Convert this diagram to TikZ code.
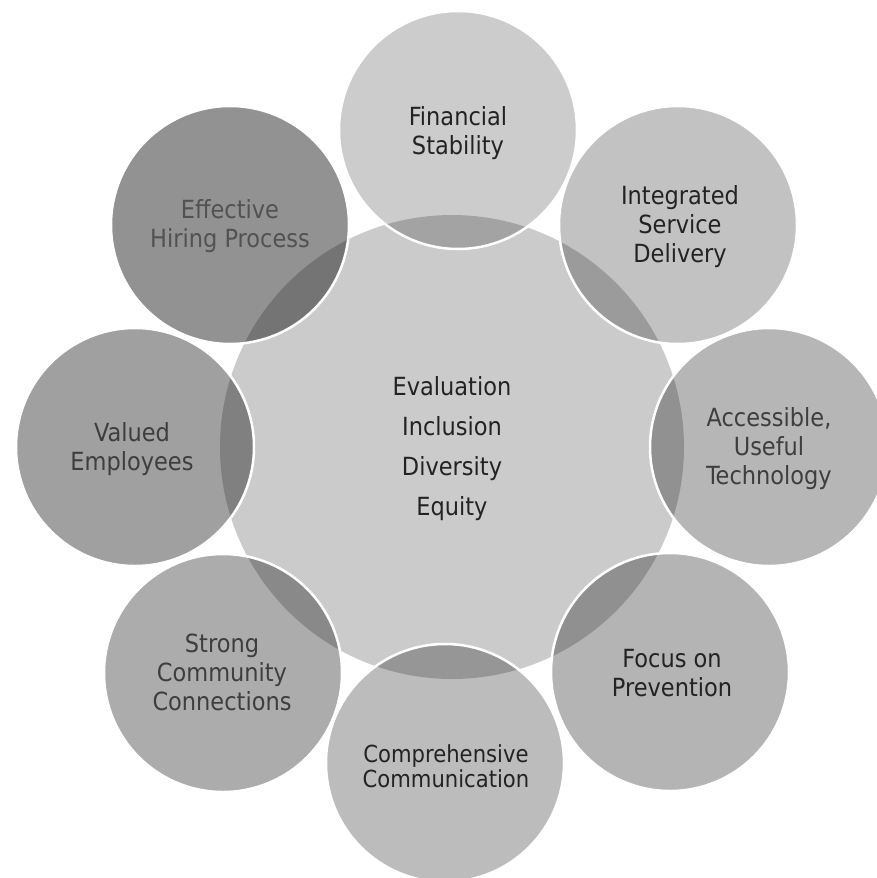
\documentclass[tikz,border=0pt]{standalone}
\usepackage{fontspec}
\setmainfont{DejaVu Sans Condensed}

% fills of the discs
\definecolor{hubfill}{RGB}{203,203,203}
\definecolor{finfill}{RGB}{204,204,204}
\definecolor{intfill}{RGB}{194,194,194}
\definecolor{accfill}{RGB}{182,182,182}
\definecolor{focfill}{RGB}{180,180,180}
\definecolor{comfill}{RGB}{188,188,188}
\definecolor{strfill}{RGB}{172,172,172}
\definecolor{valfill}{RGB}{160,160,160}
\definecolor{efffill}{RGB}{146,146,146}
% text inks
\definecolor{inkdark}{RGB}{35,35,35}
\definecolor{inkmid}{RGB}{62,62,62}
\definecolor{inksoft}{RGB}{82,82,82}

% one outer disc: name, centre, fill; its overlap with the hub is shaded darker
\newcommand\drawpetal[3]{%
  \node[disc, fill=#3] (#1) at (#2) {};
  \begin{scope}
    \clip (#1.center) circle[radius=119pt];
    \fill[black, opacity=0.2] (hub.center) circle[radius=232pt];
  \end{scope}
  \draw[white, line width=2.5pt] (#1.center) circle[radius=119pt];
}

\begin{document}
\begin{tikzpicture}[x=1pt, y=-1pt,
  disc/.style={circle, inner sep=0pt, minimum size=238pt},
  hubdisc/.style={circle, inner sep=0pt, minimum size=464pt},
  petaltext/.style={align=center, inner sep=0pt, text=inkdark,
    font=\fontsize{25}{29}\selectfont},
  hubtext/.style={align=center, inner sep=0pt, text=inkdark,
    font=\fontsize{25}{40}\selectfont},
]
\useasboundingbox[fill=white] (0,0) rectangle (876,878);

% central disc
\node[hubdisc, fill=hubfill] (hub) at (452,447) {};

% ring of eight discs
\drawpetal{fin}{458,130}{finfill}
\drawpetal{int}{678,225}{intfill}
\drawpetal{acc}{769,447}{accfill}
\drawpetal{foc}{670,672}{focfill}
\drawpetal{com}{445,763}{comfill}
\drawpetal{str}{223,673}{strfill}
\drawpetal{val}{135,447}{valfill}
\drawpetal{eff}{230,225}{efffill}

% labels
\node[hubtext] (hublabel) at (452,449) {Evaluation\\Inclusion\\Diversity\\Equity};
\node[petaltext] (finlabel) at (458,133) {Financial\\Stability};
\node[petaltext] (intlabel) at (680,227) {Integrated\\Service\\Delivery};
\node[petaltext, text=inkmid] (acclabel) at (769,449) {Accessible,\\Useful\\Technology};
\node[petaltext] (foclabel) at (672,673) {Focus on\\Prevention};
\node[petaltext, font=\fontsize{23.5}{25}\selectfont] (comlabel) at (446,766) {Comprehensive\\Communication};
\node[petaltext, text=inkmid] (strlabel) at (222,672) {Strong\\Community\\Connections};
\node[petaltext, text=inkmid] (vallabel) at (132,449) {Valued\\Employees};
\node[petaltext, text=inksoft] (efflabel) at (230,226) {Effective\\Hiring Process};
\end{tikzpicture}
\end{document}
